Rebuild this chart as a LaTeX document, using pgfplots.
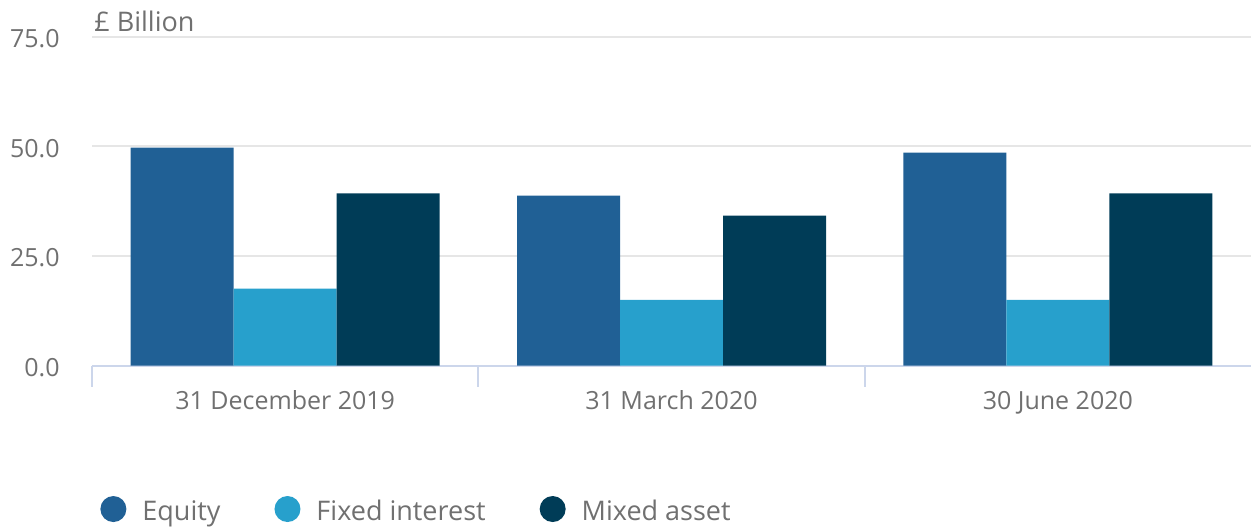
\documentclass[border=0pt]{standalone}
\usepackage{pgfplots}
\pgfplotsset{compat=1.18}
\usepackage{fontspec}
\setmainfont{Open Sans}
\definecolor{equity}{HTML}{206095}
\definecolor{fixedc}{HTML}{27A0CC}
\definecolor{mixed}{HTML}{003C57}
\definecolor{txt}{HTML}{707070}
\definecolor{gridc}{HTML}{E6E6E6}
\definecolor{axisc}{HTML}{CCD6EB}
\begin{document}
\begin{tikzpicture}
\begin{axis}[
  scale only axis, width=579.5pt, height=164.5pt,
  clip=false,
  ybar=0pt, bar width=51.5pt,
  xmin=-0.5, xmax=2.5, ymin=0, ymax=75,
  enlargelimits=false,
  xtick={0,1,2},
  xticklabels={31 December 2019, 31 March 2020, 30 June 2020},
  minor xtick={-0.5,0.5,1.5},
  ytick={0,25,50,75},
  /pgf/number format/assume math mode=true,
  y tick label style={/pgf/number format/fixed, /pgf/number format/fixed zerofill, /pgf/number format/precision=1},
  axis x line*=bottom, axis y line*=left,
  y axis line style={draw=none},
  x axis line style={draw=axisc, line width=1pt, -},
  major tick length=0pt, minor tick length=10.5pt, tick align=outside,
  minor x tick style={draw=axisc, line width=1pt},
  xtick style={draw=none}, ytick style={draw=none},
  ymajorgrids, major grid style={draw=gridc, line width=1pt},
  tick label style={font=\fontsize{12.5}{15}\selectfont, text=txt},
  xticklabel style={anchor=base, yshift=-22pt, inner sep=0pt},
  yticklabel style={anchor=east, xshift=-16pt, yshift=-1pt, inner sep=0pt},
  legend columns=3,
  legend style={at={(0.0069,-0.4377)}, anchor=west, draw=none, fill=none, inner sep=0pt,
    font=\fontsize{13.5}{16}\selectfont, text=txt,
    nodes={inner sep=0pt},
    /tikz/every odd column/.append style={column sep=8pt},
    /tikz/every even column/.append style={column sep=27pt}},
  legend image code/.code={\fill[#1] (6.5pt,1.3pt) circle (6.5pt);},
]
\addplot[fill=equity, draw=none] coordinates {(0,49.7) (1,38.8) (2,48.6)};
\addplot[fill=fixedc, draw=none] coordinates {(0,17.6) (1,15.0) (2,15.0)};
\addplot[fill=mixed, draw=none] coordinates {(0,39.3) (1,34.2) (2,39.3)};
\legend{Equity, Fixed interest, Mixed asset}
\node[anchor=base west, inner sep=0pt, text=txt, font=\fontsize{13.5}{16}\selectfont]
  at ([xshift=1pt, yshift=2.5pt]rel axis cs:0,1) {£ Billion};
\end{axis}
\pgfresetboundingbox
\path[use as bounding box] (-46pt,-80.15pt) rectangle (579.5pt,182.85pt);
\end{tikzpicture}
\end{document}
